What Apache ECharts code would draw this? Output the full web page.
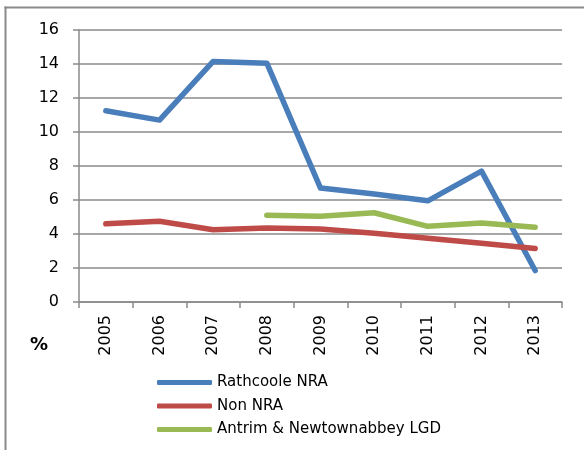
<!DOCTYPE html>
<html lang="en">
<head>
    <meta charset="utf-8">
    <title>Rathcoole NRA</title>
    <script src="https://cdn.jsdelivr.net/npm/echarts@6/dist/echarts.min.js"></script>
    <style>
        html, body { margin: 0; padding: 0; background: #fff; }
        #chart { width: 584px; height: 450px; }
    </style>
</head>
<body>
<div id="chart"></div>
<script type="text/javascript">
    var years = ['2005', '2006', '2007', '2008', '2009', '2010', '2011', '2012', '2013'];
    var rathcoole = [11.25, 10.7, 14.15, 14.05, 6.7, 6.35, 5.95, 7.7, 1.85];
    var nonNra = [4.6, 4.75, 4.25, 4.35, 4.3, 4.05, 3.75, 3.45, 3.15];
    var antrim = [null, null, null, 5.1, 5.05, 5.25, 4.45, 4.65, 4.4];

    var font = 'DejaVu Sans';
    var grey = '#8a8a8a';

    function lineSeries(name, data, color) {
        return {
            name: name,
            type: 'line',
            data: data,
            symbol: 'none',
            connectNulls: false,
            color: color,
            lineStyle: { width: 5.5, color: color, cap: 'round', join: 'round' }
        };
    }

    var chart = echarts.init(document.getElementById('chart'));
    chart.setOption({
        animation: false,
        textStyle: { fontFamily: font },
        grid: { left: 79, top: 30, right: 22, bottom: 148, containLabel: false },
        xAxis: {
            type: 'category',
            data: years,
            boundaryGap: true,
            axisLine: { show: true, lineStyle: { color: grey, width: 1.5 } },
            axisTick: { show: true, length: 6, alignWithLabel: false, lineStyle: { color: grey, width: 1.5 } },
            axisLabel: { rotate: 90, margin: 13, color: '#000', fontSize: 16, fontFamily: font }
        },
        yAxis: {
            type: 'value',
            min: 0,
            max: 16,
            interval: 2,
            axisLine: { show: true, lineStyle: { color: grey, width: 1.5 } },
            axisTick: { show: true, length: 6, lineStyle: { color: grey, width: 1.5 } },
            axisLabel: { margin: 20, color: '#000', fontSize: 16, fontFamily: font },
            splitLine: { show: true, lineStyle: { color: grey, width: 1.5 } }
        },
        legend: {
            orient: 'vertical',
            left: 157,
            top: 375,
            padding: 0,
            icon: 'roundRect',
            itemWidth: 55,
            itemHeight: 5,
            itemGap: 8.5,
            textStyle: { color: '#000', fontSize: 15, fontFamily: font },
            data: ['Rathcoole NRA', 'Non NRA', 'Antrim & Newtownabbey LGD']
        },
        graphic: [
            { type: 'line', shape: { x1: 4.5, y1: 7.5, x2: 584, y2: 7.5 }, style: { stroke: grey, lineWidth: 2 } },
            { type: 'line', shape: { x1: 5.5, y1: 6.5, x2: 5.5, y2: 450 }, style: { stroke: grey, lineWidth: 2 } },
            { type: 'text', left: 30, top: 336, style: { text: '%', font: 'bold 18px DejaVu Sans', fill: '#000' } }
        ],
        series: [
            lineSeries('Rathcoole NRA', rathcoole, '#4a7ebb'),
            lineSeries('Non NRA', nonNra, '#be4b48'),
            lineSeries('Antrim & Newtownabbey LGD', antrim, '#98b954')
        ]
    });
</script>
</body>
</html>
